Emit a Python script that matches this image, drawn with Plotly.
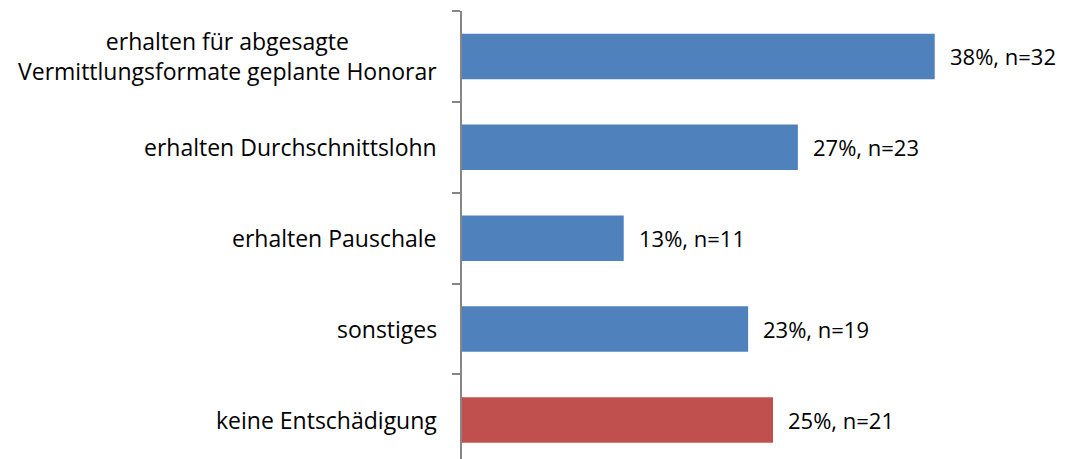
import plotly.graph_objects as go

# data
categories = [
    "erhalten für abgesagte<br>Vermittlungsformate geplante Honorar",
    "erhalten Durchschnittslohn",
    "erhalten Pauschale",
    "sonstiges",
    "keine Entschädigung",
]
percent = [38, 27, 13, 23, 25]
counts = [32, 23, 11, 19, 21]
bar_colors = ["#4F81BD", "#4F81BD", "#4F81BD", "#4F81BD", "#C0504D"]

font_family = "'Open Sans', sans-serif"
idx = list(range(len(categories)))

fig = go.Figure()
fig.add_trace(go.Bar(
    x=percent, y=idx, orientation="h",
    marker={"color": bar_colors, "line": {"width": 0}},
    width=0.5, hoverinfo="skip"))

annotations = []
for i, (p, n) in enumerate(zip(percent, counts)):
    annotations.append(dict(
        x=p, y=i, xref="x", yref="y", text="%d%%, n=%d" % (p, n),
        showarrow=False, xanchor="left", xshift=13,
        font={"size": 22, "color": "#000000", "family": font_family}))
    annotations.append(dict(
        x=0, y=i, xref="paper", yref="y", text=categories[i],
        showarrow=False, xanchor="right", align="center", xshift=-23,
        font={"size": 23, "color": "#000000", "family": font_family}))

# page body has an 8px margin, so shift everything up/left by 8
fig.update_layout(
    width=1059, height=451,
    margin={"l": 454, "r": 0, "t": 3, "b": 0},
    plot_bgcolor="white", paper_bgcolor="white",
    showlegend=False,
    annotations=annotations,
    xaxis={"range": [0, 605 / 12.44], "visible": False},
    yaxis={"range": [4.43, -0.5], "tickmode": "array",
           "tickvals": [-0.5, 0.5, 1.5, 2.5, 3.5],
           "ticktext": ["", "", "", "", ""],
           "ticks": "outside", "ticklen": 8, "tickwidth": 2,
           "tickcolor": "#868686", "showline": True, "linewidth": 2,
           "linecolor": "#868686", "showgrid": False, "zeroline": False},
)

fig.write_html("out.html")
